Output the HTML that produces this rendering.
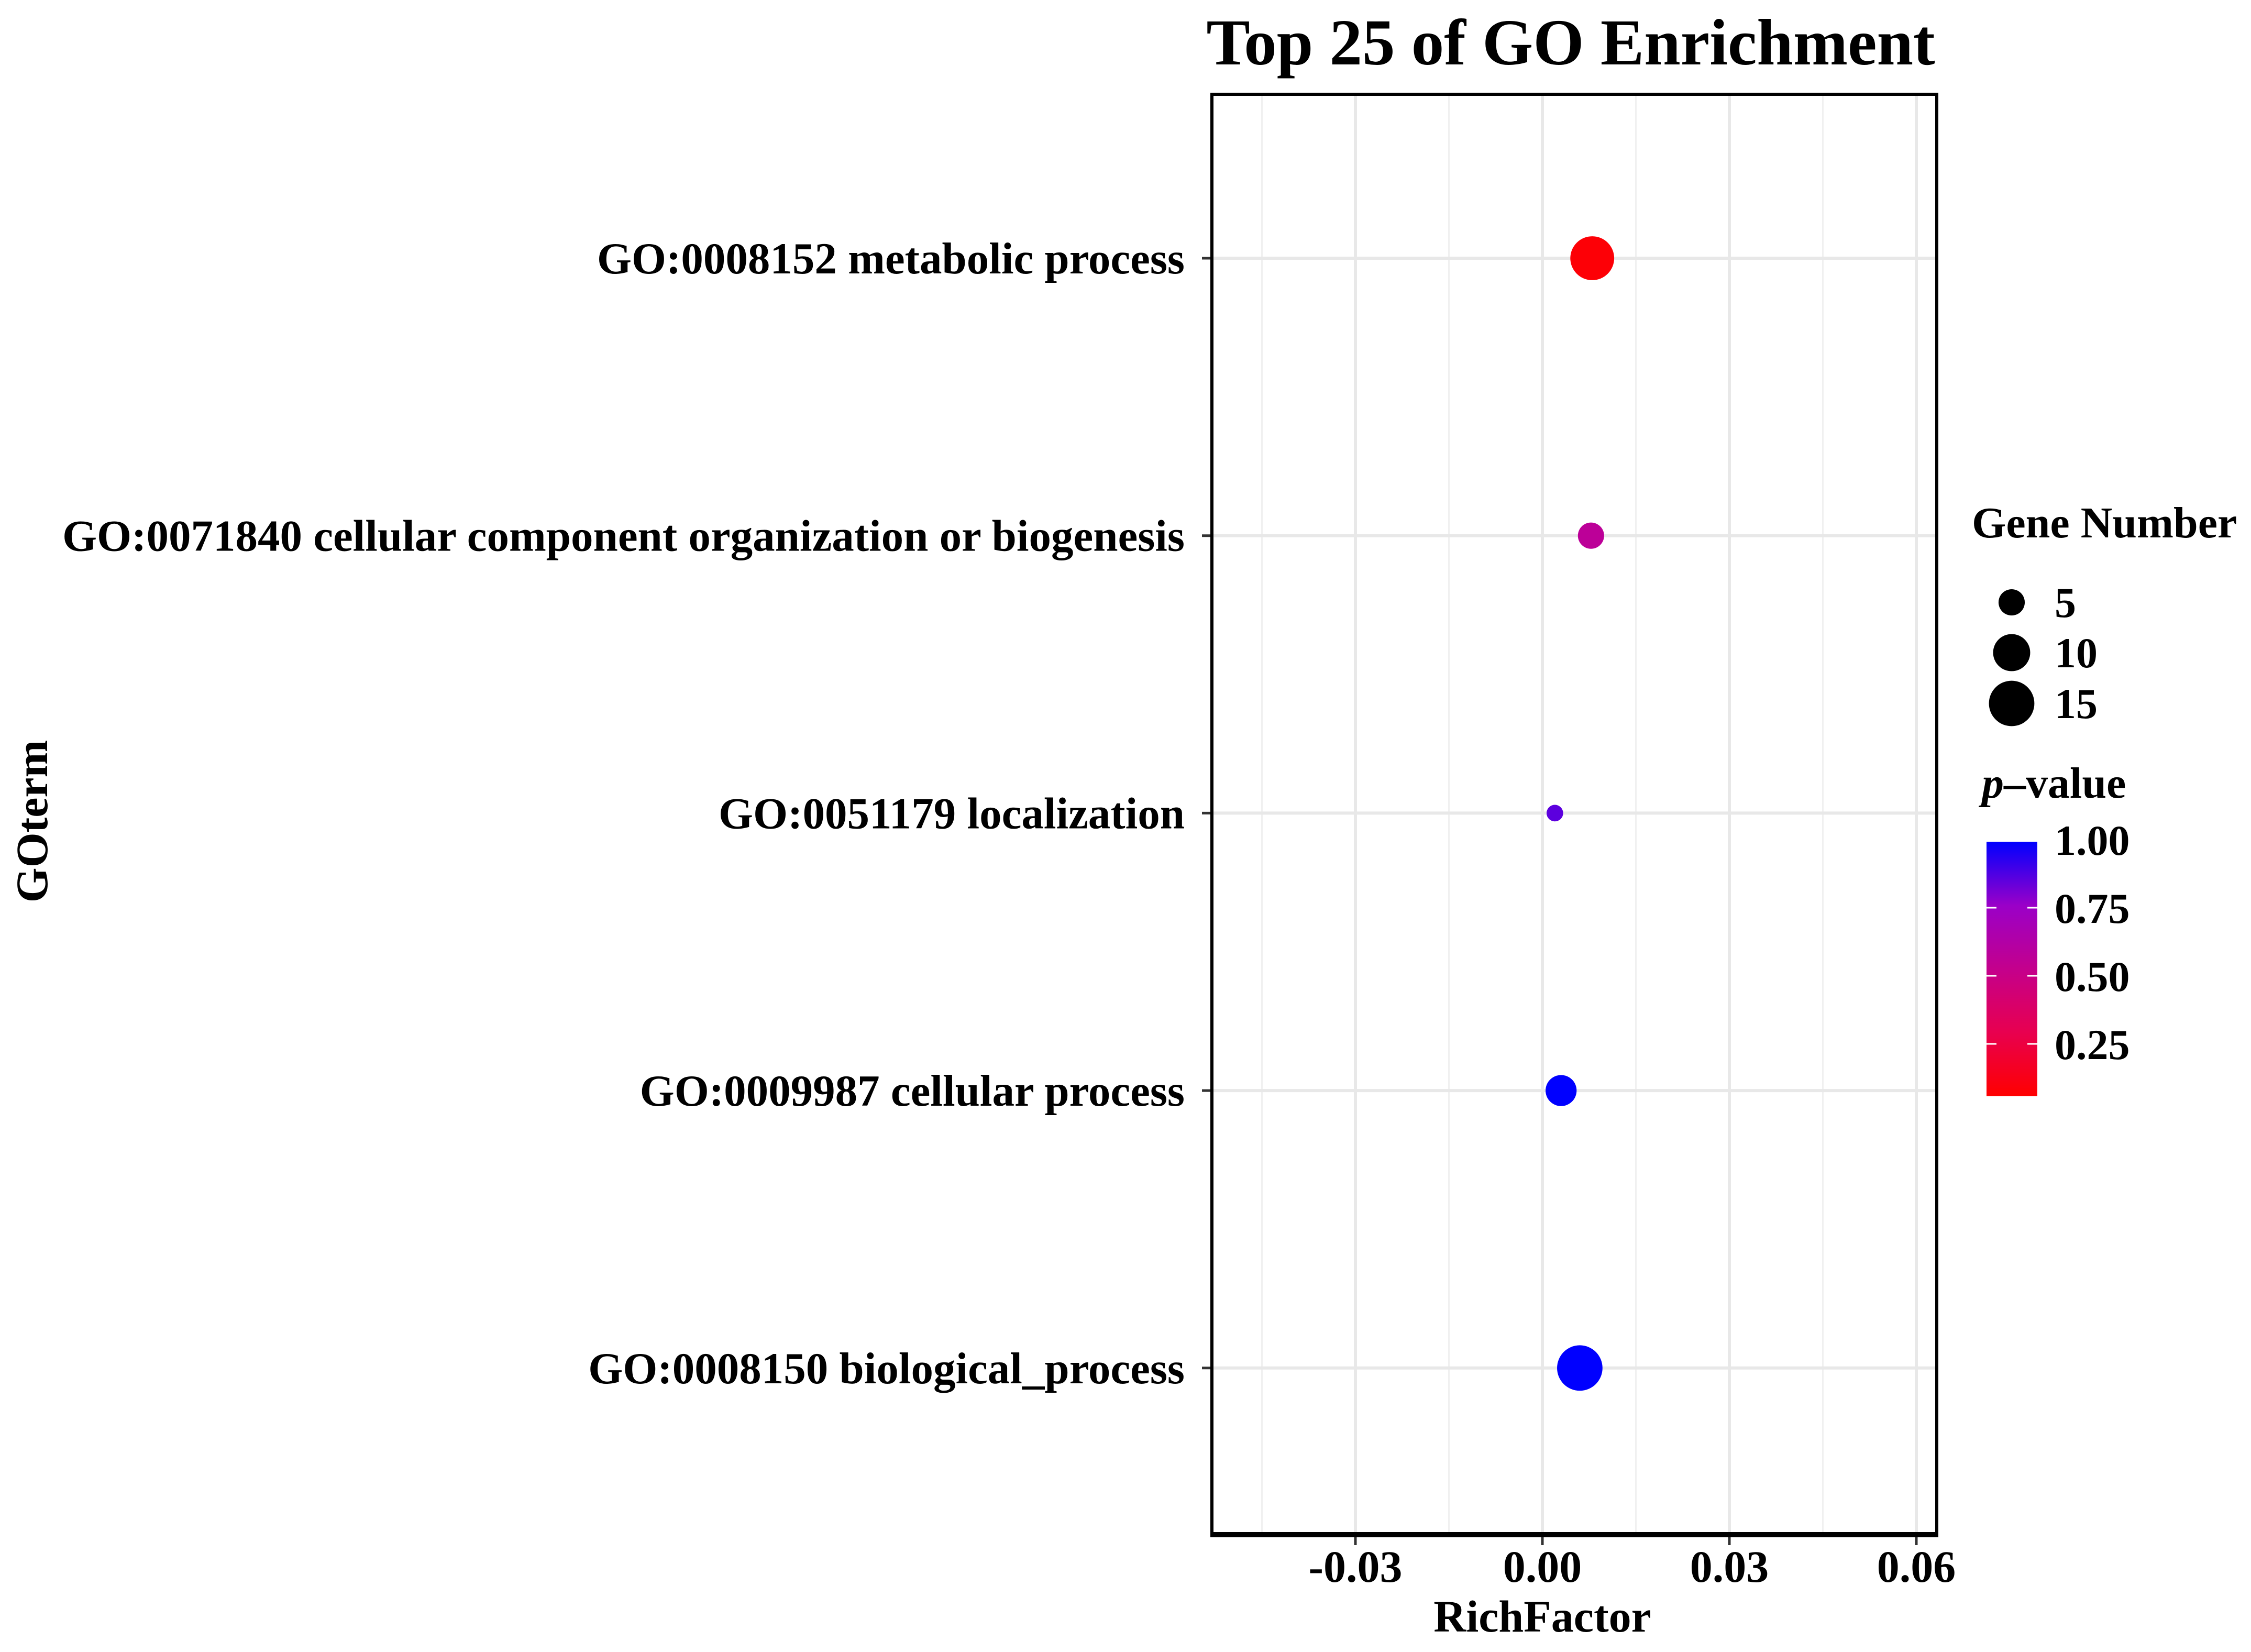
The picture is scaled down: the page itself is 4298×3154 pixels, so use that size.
<!DOCTYPE html>
<html><head><meta charset="utf-8"><style>
html,body{margin:0;padding:0;background:#fff;}
svg{display:block;font-family:"Liberation Serif",serif;font-weight:bold;}
</style></head><body>
<svg id="chart" width="4298" height="3154" viewBox="0 0 4298 3154" xmlns="http://www.w3.org/2000/svg">
<defs>
<linearGradient id="pgrad" x1="0" y1="1" x2="0" y2="0">
<stop offset="0" stop-color="#ff0000"/><stop offset="0.25" stop-color="#e8004f"/>
<stop offset="0.5" stop-color="#c4008c"/><stop offset="0.75" stop-color="#9a00c8"/><stop offset="1" stop-color="#0000ff"/>
</linearGradient>
</defs>
<text x="2999" y="123" font-size="125" text-anchor="middle">Top 25 of GO Enrichment</text>
<g id="grid"></g>
<g id="ylabels"></g>
<g id="points"></g>
<rect x="2314" y="180" width="1384" height="2749" fill="none" stroke="#000" stroke-width="6"/>
<line x1="2311" y1="2930" x2="3701" y2="2930" stroke="#000" stroke-width="10"/>
<g id="xticks"></g>
<text x="2945" y="3115" font-size="86" text-anchor="middle">RichFactor</text>
<text transform="translate(90,1568) rotate(-90)" font-size="86" text-anchor="middle">GOterm</text>
<text x="3765" y="1026" font-size="84">Gene Number</text>
<g id="sizelegend"></g>
<text x="3784" y="1523" font-size="84"><tspan font-style="italic">p</tspan>–value</text>
<rect x="3793" y="1607" width="97" height="486" fill="url(#pgrad)"/>
<g id="colorlegend"></g>
</svg>
<script>
const terms = ["GO:0008152 metabolic process","GO:0071840 cellular component organization or biogenesis","GO:0051179 localization","GO:0009987 cellular process","GO:0008150 biological_process"];
const richFactor = [0.008, 0.0078, 0.002, 0.003, 0.006];
const geneNumber = [14, 5, 2, 7, 15];
const pValue = [0.02, 0.55, 0.85, 1.0, 1.0];
const xTicks = [-0.03, 0, 0.03, 0.06];
const xTickLabels = ["-0.03","0.00","0.03","0.06"];
const sizeBreaks = [5, 10, 15];
const colorBreaks = [0.25, 0.5, 0.75, 1.0];
const colorBreakLabels = ["0.25","0.50","0.75","1.00"];

const NS="http://www.w3.org/2000/svg";
const xs = v => 2945 + v/0.03*357;
const ys = i => 493 + i*529.7;
const rs = n => 11.2*Math.sqrt(n);
const cb = p => 2123 - p*520;
function mk(tag, attrs, parent){const e=document.createElementNS(NS,tag);for(const k in attrs)e.setAttribute(k,attrs[k]);parent.appendChild(e);return e;}
function lerp(a,b,t){return Math.round(a+(b-a)*t);}
const stops=[[0,[255,0,0]],[0.25,[232,0,79]],[0.5,[196,0,140]],[0.75,[154,0,200]],[1,[0,0,255]]];
function col(p){for(let i=1;i<stops.length;i++){if(p<=stops[i][0]){const t=(p-stops[i-1][0])/(stops[i][0]-stops[i-1][0]);const a=stops[i-1][1],b=stops[i][1];return `rgb(${lerp(a[0],b[0],t)},${lerp(a[1],b[1],t)},${lerp(a[2],b[2],t)})`;}}return "rgb(0,0,255)";}

const grid=document.getElementById('grid');
for(let i=0;i<xTicks.length;i++){
  const m=mk('line',{x1:xs(xTicks[i]),x2:xs(xTicks[i]),y1:180,y2:2929,stroke:'#e8e8e8','stroke-width':6},grid);
  
  
  const n=mk('line',{x1:xs(xTicks[i]-0.015),x2:xs(xTicks[i]-0.015),y1:180,y2:2929,stroke:'#f0f0f0','stroke-width':3},grid);
  
  
}
for(let i=0;i<terms.length;i++){
  const g=mk('line',{x1:2314,x2:3698,y1:ys(i),y2:ys(i),stroke:'#e8e8e8','stroke-width':6},grid);
  
  
}
const yl=document.getElementById('ylabels');
for(let i=0;i<terms.length;i++){
  const t=mk('line',{x1:2295,x2:2314,y1:ys(i),y2:ys(i),stroke:'#333','stroke-width':5},yl);
  
  
  const l=mk('text',{x:2262,y:ys(i)+29,'font-size':85,'text-anchor':'end'},yl);
  l.textContent=terms[i];
  
  
}
const pts=document.getElementById('points');
for(let i=0;i<terms.length;i++){
  const c=mk('circle',{cx:xs(richFactor[i]),cy:ys(i),r:rs(geneNumber[i]),fill:col(pValue[i])},pts);
  
  
}
const xt=document.getElementById('xticks');
for(let i=0;i<xTicks.length;i++){
  const t=mk('line',{x1:xs(xTicks[i]),x2:xs(xTicks[i]),y1:2935,y2:2950,stroke:'#333','stroke-width':5},xt);
  
  
  const l=mk('text',{x:xs(xTicks[i]),y:3020,'font-size':86,'text-anchor':'middle'},xt);
  l.textContent=xTickLabels[i];
  
  
}
const sl=document.getElementById('sizelegend');
const slY=[1150,1246,1343];
for(let i=0;i<sizeBreaks.length;i++){
  const c=mk('circle',{cx:3841,cy:slY[i],r:rs(sizeBreaks[i]),fill:'#000'},sl);
  
  
  const l=mk('text',{x:3923,y:slY[i]+28,'font-size':82},sl);
  l.textContent=sizeBreaks[i];
  
  
}
const cl=document.getElementById('colorlegend');
for(let i=0;i<colorBreaks.length;i++){
  const y=cb(colorBreaks[i]);
  if(colorBreaks[i]<1){
    mk('line',{x1:3793,x2:3812,y1:y,y2:y,stroke:'#fff','stroke-width':3},cl);
    mk('line',{x1:3871,x2:3890,y1:y,y2:y,stroke:'#fff','stroke-width':3},cl);
  }
  const l=mk('text',{x:3923,y:y+29,'font-size':82},cl);
  l.textContent=colorBreakLabels[i];
  
  
}
</script>
</body></html>
